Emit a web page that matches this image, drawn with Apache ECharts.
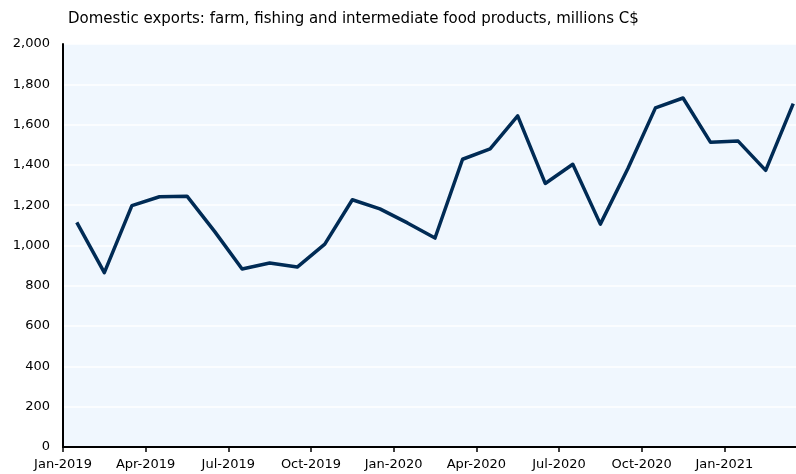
<!DOCTYPE html>
<html><head><meta charset="utf-8">
<script src="https://cdn.jsdelivr.net/npm/echarts@6/dist/echarts.min.js"></script>
<style>html,body{margin:0;padding:0;background:#fff}#c{width:796px;height:474px}</style>
</head><body><div id="c"></div>
<script>
const months = ["Jan-2019","Feb-2019","Mar-2019","Apr-2019","May-2019","Jun-2019","Jul-2019","Aug-2019","Sep-2019","Oct-2019","Nov-2019","Dec-2019",
"Jan-2020","Feb-2020","Mar-2020","Apr-2020","May-2020","Jun-2020","Jul-2020","Aug-2020","Sep-2020","Oct-2020","Nov-2020","Dec-2020",
"Jan-2021","Feb-2021","Mar-2021"];
const exportsValues = [1115,865,1198,1242,1245,1070,883,913,893,1007,1227,1182,
1112,1037,1428,1480,1643,1308,1403,1106,1382,1683,1732,1512,1518,1373,1704];
const tickLabels = ["Jan-2019","Apr-2019","Jul-2019","Oct-2019","Jan-2020","Apr-2020","Jul-2020","Oct-2020","Jan-2021"];
const title = "Domestic exports: farm, fishing and intermediate food products, millions C$";

const font = "DejaVu Sans";
const chart = echarts.init(document.getElementById('c'));
chart.setOption({
  animation:false,
  title:{text:title,left:63,top:7,textStyle:{fontFamily:font,fontSize:15,fontWeight:'normal',color:'#000'}},
  grid:{left:63,right:0,top:44,bottom:27,show:true,backgroundColor:'#F0F7FE',borderWidth:0},
  xAxis:{type:'value',min:0,max:26.6,interval:3,
    axisLine:{show:true,onZero:false,lineStyle:{color:'#000',width:2}},
    axisTick:{show:true,length:5,lineStyle:{color:'#000',width:1.5}},
    splitLine:{show:false},
    axisLabel:{showMaxLabel:false,margin:11,fontFamily:font,fontSize:13,color:'#000',
      formatter:v=>tickLabels[Math.round(v/3)]||''}},
  yAxis:{type:'value',min:0,max:2000,interval:200,
    axisLine:{show:true,lineStyle:{color:'#000',width:2}},
    axisTick:{show:false},
    splitLine:{show:true,lineStyle:{color:'#fff',width:1.5}},
    axisLabel:{margin:13,fontFamily:font,fontSize:13,color:'#000',
      formatter:v=>v.toLocaleString('en-US')}},
  series:[{type:'line',data:exportsValues.map((v,i)=>[i+0.5,v]),symbol:'none',
    lineStyle:{color:'#002B55',width:3.5,join:'round'}}]
});
</script></body></html>
